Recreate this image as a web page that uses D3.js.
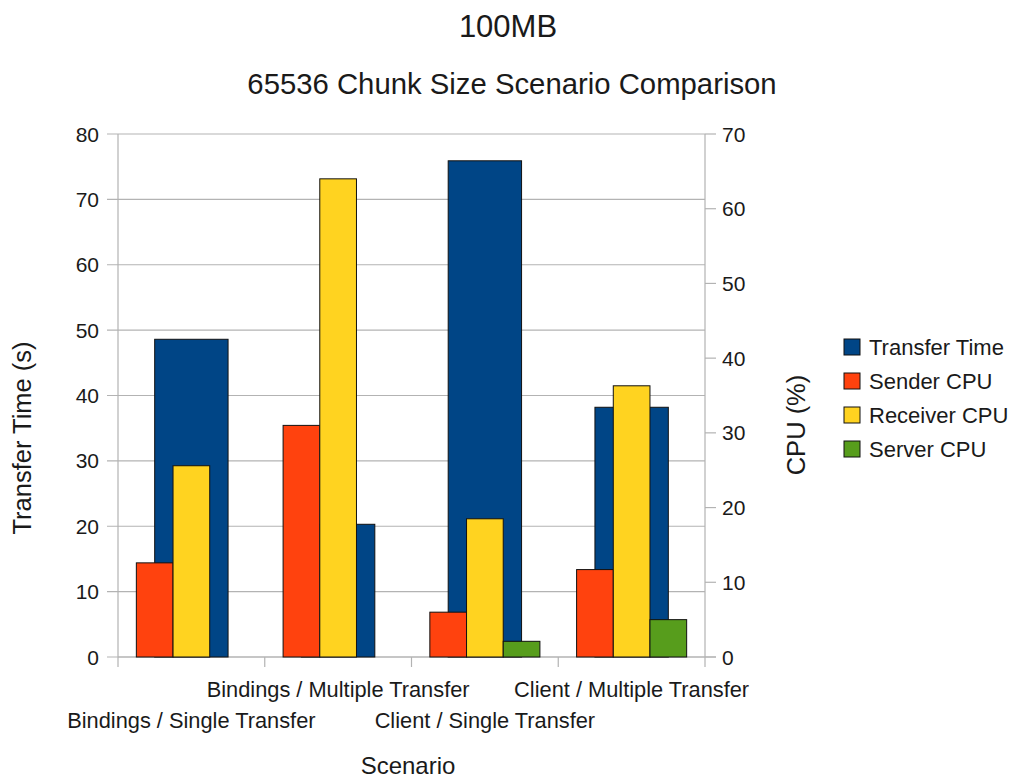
<!DOCTYPE html>
<html>
<head>
<meta charset="utf-8">
<script src="https://cdn.jsdelivr.net/npm/d3@7"></script>
<style>
  body { margin: 0; background: #fff; }
  text { font-family: "Liberation Sans", Arial, sans-serif; fill: #1a1a1a; }
</style>
</head>
<body>
<svg width="1010" height="780"></svg>
<script>
const scenarios = [
  "Bindings / Single Transfer",
  "Bindings / Multiple Transfer",
  "Client / Single Transfer",
  "Client / Multiple Transfer"
];
const transferTime = [48.6, 20.3, 75.9, 38.2];
const senderCpu = [12.6, 31.0, 6.0, 11.7];
const receiverCpu = [25.6, 64.0, 18.5, 36.3];
const serverCpu = [0, 0, 2.1, 5.0];
const leftTicks = [0, 10, 20, 30, 40, 50, 60, 70, 80];
const rightTicks = [0, 10, 20, 30, 40, 50, 60, 70];

const cpuSeries = [
  { name: "Sender CPU", values: senderCpu, color: "#ff420e" },
  { name: "Receiver CPU", values: receiverCpu, color: "#ffd320" },
  { name: "Server CPU", values: serverCpu, color: "#579d1c" }
];
const blue = "#004586";

const svg = d3.select("svg");
const plotLeft = 118, plotRight = 705, plotTop = 134, plotBottom = 657;
const gridColor = "#b3b3b3";

const x = d3.scaleBand().domain(scenarios).range([plotLeft, plotRight]);
const yL = d3.scaleLinear().domain([0, 80]).range([plotBottom, plotTop]);
const yR = d3.scaleLinear().domain([0, 70]).range([plotBottom, plotTop]);
const bw = x.bandwidth();
const xs = d3.scaleBand().domain(cpuSeries.map(s => s.name)).range([bw / 8, bw * 7 / 8]);

// gridlines + left ticks
svg.append("g").selectAll("line")
  .data(leftTicks)
  .join("line")
    .attr("x1", plotLeft - 11).attr("x2", plotRight)
    .attr("y1", d => yL(d)).attr("y2", d => yL(d))
    .attr("stroke", gridColor).attr("stroke-width", 1.2);

// right ticks
svg.append("g").selectAll("line")
  .data(rightTicks)
  .join("line")
    .attr("x1", plotRight).attr("x2", plotRight + 11)
    .attr("y1", d => yR(d)).attr("y2", d => yR(d))
    .attr("stroke", gridColor).attr("stroke-width", 1.2);

// axis lines
svg.append("line").attr("x1", plotLeft).attr("x2", plotLeft).attr("y1", plotTop).attr("y2", plotBottom + 10)
  .attr("stroke", gridColor).attr("stroke-width", 1.2);
svg.append("line").attr("x1", plotRight).attr("x2", plotRight).attr("y1", plotTop).attr("y2", plotBottom + 10)
  .attr("stroke", gridColor).attr("stroke-width", 1.2);
svg.append("line").attr("x1", plotLeft).attr("x2", plotRight + 11).attr("y1", plotBottom).attr("y2", plotBottom)
  .attr("stroke", gridColor).attr("stroke-width", 1.2);

// category boundary ticks
svg.append("g").selectAll("line")
  .data(scenarios.slice(1))
  .join("line")
    .attr("x1", d => x(d)).attr("x2", d => x(d))
    .attr("y1", plotBottom).attr("y2", plotBottom + 10)
    .attr("stroke", gridColor).attr("stroke-width", 1.2);

// tick labels
svg.append("g").selectAll("text")
  .data(leftTicks)
  .join("text")
    .attr("x", 99).attr("y", d => yL(d) + 7.5)
    .attr("text-anchor", "end")
    .style("font-size", "21px")
    .text(d => d);

svg.append("g").selectAll("text")
  .data(rightTicks)
  .join("text")
    .attr("x", 722).attr("y", d => yR(d) + 7.5)
    .style("font-size", "21px")
    .text(d => d);

// transfer time bars (behind)
svg.append("g").selectAll("rect")
  .data(transferTime)
  .join("rect")
    .attr("x", (d, i) => x(scenarios[i]) + bw / 4)
    .attr("y", d => yL(d))
    .attr("width", bw / 2)
    .attr("height", d => plotBottom - yL(d))
    .attr("fill", blue)
    .attr("stroke", "#111").attr("stroke-width", 1);

// cpu bars
cpuSeries.forEach(s => {
  svg.append("g").selectAll("rect")
    .data(s.values)
    .join("rect")
      .attr("x", (d, i) => x(scenarios[i]) + xs(s.name))
      .attr("y", d => yR(d))
      .attr("width", xs.bandwidth())
      .attr("height", d => plotBottom - yR(d))
      .attr("fill", s.color)
      .attr("stroke", d => d > 0 ? "#111" : "none").attr("stroke-width", 1);
});

// category labels, staggered
svg.append("g").selectAll("text")
  .data(scenarios)
  .join("text")
    .attr("x", d => x(d) + bw / 2)
    .attr("y", (d, i) => i % 2 ? 697 : 728)
    .attr("text-anchor", "middle")
    .style("font-size", "21.8px")
    .text(d => d);

// titles
svg.append("text").attr("x", 508).attr("y", 37).attr("text-anchor", "middle")
  .style("font-size", "31px").text("100MB");
svg.append("text").attr("x", 512).attr("y", 94).attr("text-anchor", "middle")
  .style("font-size", "29.3px").text("65536 Chunk Size Scenario Comparison");
svg.append("text").attr("x", 408).attr("y", 774).attr("text-anchor", "middle")
  .style("font-size", "24px").text("Scenario");
svg.append("text").attr("transform", "translate(31,438) rotate(-90)").attr("text-anchor", "middle")
  .style("font-size", "25.5px").text("Transfer Time (s)");
svg.append("text").attr("transform", "translate(805,425) rotate(-90)").attr("text-anchor", "middle")
  .style("font-size", "25.5px").text("CPU (%)");

// legend
const legendItems = [{ name: "Transfer Time", color: blue }].concat(cpuSeries);
const legend = svg.append("g").attr("transform", "translate(844,339)");
legendItems.forEach((item, i) => {
  const row = legend.append("g").attr("transform", `translate(0,${i * 34})`);
  row.append("rect")
    .attr("width", 16).attr("height", 16)
    .attr("fill", item.color)
    .attr("stroke", "#111").attr("stroke-width", 1);
  row.append("text")
    .attr("x", 25).attr("y", 16)
    .style("font-size", "22px")
    .text(item.name);
});
</script>
</body>
</html>
